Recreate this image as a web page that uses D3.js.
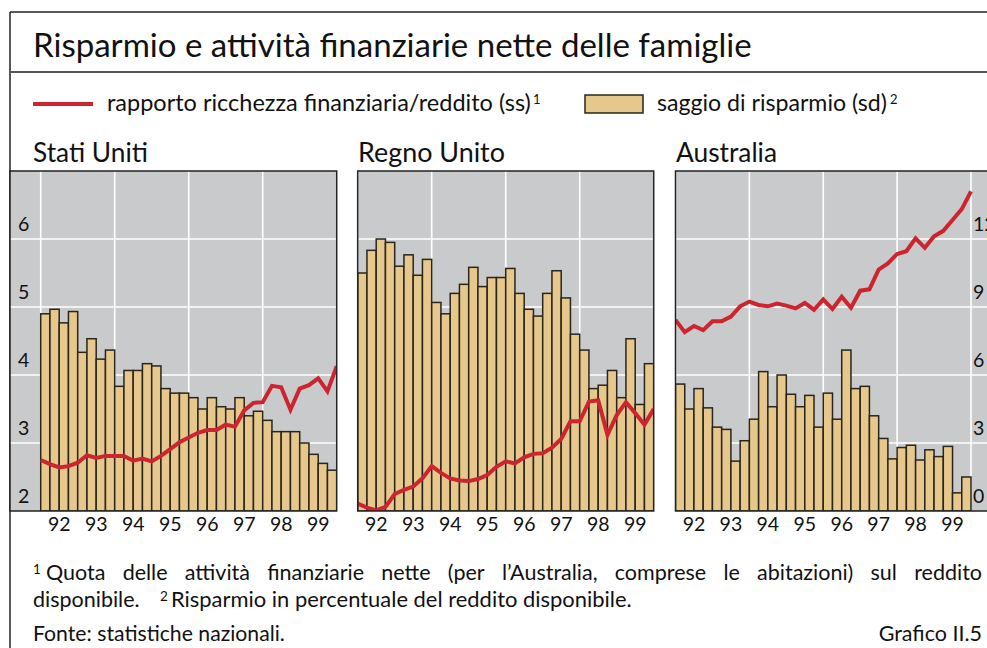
<!DOCTYPE html>
<html><head><meta charset="utf-8">
<script src="https://cdn.jsdelivr.net/npm/d3@7"></script>
<style>
body{margin:0;background:#fff}
svg{display:block}
text{font-family:Lato,'Open Sans',sans-serif;fill:#111}
</style>
</head><body>
<svg id="c" width="987" height="648"></svg>
<script>
// ---------- DATA ----------
const yearLabels = ["92","93","94","95","96","97","98","99"];
const panelNames = ["Stati Uniti","Regno Unito","Australia"];
const leftTicks = [2,3,4,5,6];
const rightTicks = [0,3,6,9,12];

// saggio di risparmio (sd), quarterly 1992Q1-1999Q4
const usSaving = [8.7,8.9,8.3,8.8,7.0,7.6,6.7,7.1,5.5,6.2,6.2,6.5,6.4,5.4,5.2,5.2,5.0,4.5,5.0,4.6,4.5,5.0,4.2,4.4,4.0,3.5,3.5,3.5,3.0,2.5,2.1,1.8];
const ukSaving = [10.5,11.5,12.0,11.85,10.8,11.3,10.4,11.1,9.2,8.7,9.6,10.0,10.75,9.9,10.3,10.3,10.7,9.6,8.9,8.6,9.6,10.6,9.4,7.8,7.1,5.4,5.55,6.2,5.0,7.6,4.7,6.5];
const auSaving = [5.6,4.5,5.4,4.55,3.7,3.6,2.2,3.1,4.05,6.15,4.6,6.0,5.15,4.6,5.1,3.7,5.2,4.05,7.1,5.4,5.5,4.2,3.2,2.3,2.8,2.9,2.25,2.7,2.4,2.85,0.8,1.5];

// rapporto ricchezza finanziaria/reddito (ss), 33 quarterly points
const usRatio = [2.75,2.69,2.64,2.66,2.71,2.82,2.78,2.81,2.81,2.81,2.74,2.77,2.73,2.81,2.91,3.01,3.08,3.15,3.19,3.19,3.27,3.24,3.48,3.59,3.60,3.84,3.82,3.49,3.80,3.85,3.95,3.76,4.13];
const ukRatio = [2.11,2.05,2.01,2.06,2.25,2.31,2.36,2.48,2.66,2.56,2.48,2.45,2.44,2.47,2.53,2.65,2.73,2.70,2.79,2.84,2.85,2.93,3.06,3.32,3.32,3.61,3.63,3.12,3.41,3.60,3.44,3.27,3.50];
const auRatio = [4.81,4.63,4.72,4.66,4.79,4.79,4.86,5.01,5.08,5.03,5.01,5.05,5.02,4.98,5.06,4.96,5.11,4.97,5.15,4.99,5.24,5.26,5.55,5.64,5.78,5.82,6.01,5.87,6.04,6.12,6.28,6.44,6.70];

// ---------- STYLE ----------
const C = {gray:"#c9cacc", bar:"#e6c88c", barStroke:"#2a241a", red:"#cc2530", frame:"#222", grid:"#ffffff"};
const svg = d3.select("#c");

function fitWidth(sel, target){
  const w = sel.node().getComputedTextLength();
  const fs = parseFloat(sel.attr("font-size"));
  let k = target / w; k = Math.max(0.8, Math.min(1.2, k));
  sel.attr("font-size", fs * k);
  return sel;
}
function justify(words, x0, x1, y, fs){
  const g = svg.append("g");
  const nodes = words.map(w => g.append("text").attr("font-size", fs).attr("y", y).text(w));
  const widths = nodes.map(n => n.node().getComputedTextLength());
  const gap = (x1 - x0 - d3.sum(widths)) / (words.length - 1);
  let x = x0;
  nodes.forEach((n,i) => { n.attr("x", x); x += widths[i] + gap; });
}

// ---------- FRAME ----------
svg.append("line").attr("x1",10).attr("x2",987).attr("y1",12).attr("y2",12).attr("stroke",C.frame).attr("stroke-width",1.5);
svg.append("line").attr("x1",10).attr("x2",10).attr("y1",12).attr("y2",648).attr("stroke",C.frame).attr("stroke-width",1.5);
svg.append("line").attr("x1",10).attr("x2",987).attr("y1",72).attr("y2",72).attr("stroke","#555").attr("stroke-width",2);

fitWidth(svg.append("text").attr("x",33).attr("y",57).attr("font-size",30)
  .text("Risparmio e attività finanziarie nette delle famiglie"), 719);

// ---------- LEGEND ----------
svg.append("line").attr("x1",33).attr("x2",93).attr("y1",104).attr("y2",104).attr("stroke",C.red).attr("stroke-width",4);
fitWidth(svg.append("text").attr("x",107).attr("y",111).attr("font-size",20)
  .text("rapporto ricchezza finanziaria/reddito (ss)"), 424);
svg.append("text").attr("x",533).attr("y",104).attr("font-size",13).text("1");
svg.append("rect").attr("x",585).attr("y",95).attr("width",58).attr("height",18)
  .attr("fill",C.bar).attr("stroke",C.barStroke).attr("stroke-width",1.5);
fitWidth(svg.append("text").attr("x",657).attr("y",111).attr("font-size",20)
  .text("saggio di risparmio (sd)"), 230);
svg.append("text").attr("x",890).attr("y",104).attr("font-size",13).text("2");

// ---------- PANELS ----------
const yTop = 171, yBot = 511;
const yL = d3.scaleLinear().domain([2,7]).range([yBot,yTop]);
const yR = d3.scaleLinear().domain([0,15]).range([yBot,yTop]);

const panels = [
  {name:panelNames[0], saving:usSaving, ratio:usRatio, rx0:10,    rx1:336.7, dx0:40.7,  dx1:336.7, titleX:33,  titleW:115, labels:"left"},
  {name:panelNames[1], saving:ukSaving, ratio:ukRatio, rx0:357.7, rx1:653.7, dx0:357.7, dx1:653.7, titleX:358, titleW:147, labels:"none"},
  {name:panelNames[2], saving:auSaving, ratio:auRatio, rx0:675.5, rx1:1010,  dx0:675.5, dx1:971,   titleX:676, titleW:101, labels:"right"}
];

panels.forEach((p, pi) => {
  const g = svg.append("g");
  const x = d3.scaleLinear().domain([1992,2000]).range([p.dx0, p.dx1]);
  const q = (x(2000)-x(1992))/32;

  fitWidth(g.append("text").attr("x",p.titleX).attr("y",162).attr("font-size",23).text(p.name), p.titleW);

  const clipId = "clip"+pi;
  svg.append("clipPath").attr("id",clipId).append("rect")
    .attr("x",p.rx0).attr("y",yTop).attr("width",p.rx1-p.rx0).attr("height",yBot-yTop);

  const inner = g.append("g").attr("clip-path",`url(#${clipId})`);
  inner.append("rect").attr("x",p.rx0).attr("y",yTop).attr("width",p.rx1-p.rx0).attr("height",yBot-yTop).attr("fill",C.gray);

  inner.selectAll(".hg").data([3,4,5,6]).join("line")
    .attr("x1",p.rx0).attr("x2",p.rx1).attr("y1",d=>yL(d)).attr("y2",d=>yL(d))
    .attr("stroke",C.grid).attr("stroke-width",1.6);
  inner.selectAll(".vg").data([1992,1994,1996,1998,2000]).join("line")
    .attr("x1",d=>x(d)).attr("x2",d=>x(d)).attr("y1",yTop).attr("y2",yBot)
    .attr("stroke",C.grid).attr("stroke-width",1.6);

  inner.selectAll(".bar").data(p.saving).join("rect")
    .attr("x",(d,i)=>x(1992+i/4)).attr("width",q)
    .attr("y",d=>yR(d)).attr("height",d=>yBot-yR(d))
    .attr("fill",C.bar).attr("stroke",C.barStroke).attr("stroke-width",1.5);

  const line = d3.line().x((d,i)=>x(1992+i/4)).y(d=>yL(d));
  inner.append("path").datum(p.ratio).attr("d",line)
    .attr("fill","none").attr("stroke",C.red).attr("stroke-width",4).attr("stroke-linejoin","miter");

  if (p.labels==="left"){
    g.selectAll(".yl").data(leftTicks).join("text")
      .attr("x",18).attr("y",d=>yL(d)-8).attr("font-size",19.5).text(d=>d);
  }
  if (p.labels==="right"){
    g.selectAll(".yr").data(rightTicks).join("text")
      .attr("x",973).attr("y",d=>yR(d)-8).attr("font-size",19.5).text(d=>d);
  }

  g.append("rect").attr("x",p.rx0).attr("y",yTop).attr("width",p.rx1-p.rx0).attr("height",yBot-yTop)
    .attr("fill","none").attr("stroke",C.frame).attr("stroke-width",1.5);

  g.selectAll(".xl").data(yearLabels).join("text")
    .attr("x",(d,i)=>x(1992+i+0.5)).attr("y",531).attr("text-anchor","middle")
    .attr("font-size",19.5).text(d=>d);
});

// ---------- FOOTNOTES ----------
const fnSize = 21.5;
svg.append("text").attr("x",33).attr("y",574).attr("font-size",13.5).text("1");
justify("Quota delle attività finanziarie nette (per l’Australia, comprese le abitazioni) sul reddito".split(" "), 46, 982, 580, fnSize);
svg.append("text").attr("x",33).attr("y",607).attr("font-size",fnSize).text("disponibile.");
svg.append("text").attr("x",160).attr("y",601).attr("font-size",13.5).text("2");
fitWidth(svg.append("text").attr("x",171).attr("y",607).attr("font-size",fnSize)
  .text("Risparmio in percentuale del reddito disponibile."), 461);
fitWidth(svg.append("text").attr("x",33).attr("y",641).attr("font-size",fnSize)
  .text("Fonte: statistiche nazionali."), 252);
svg.append("text").attr("x",982).attr("y",641).attr("font-size",fnSize).attr("text-anchor","end").text("Grafico II.5");
</script>
</body></html>
